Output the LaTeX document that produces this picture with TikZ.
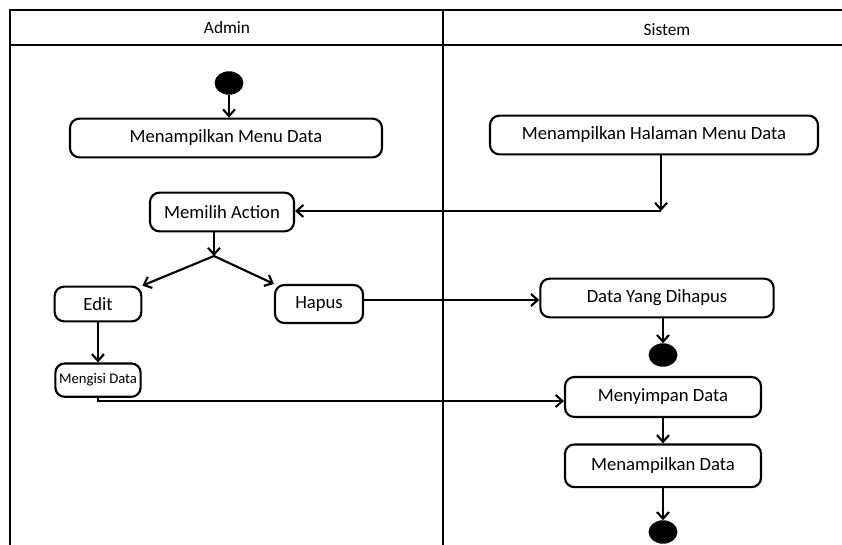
\documentclass[tikz,border=0pt]{standalone}
\usepackage{fontspec}
\setmainfont{Carlito}
\usetikzlibrary{arrows.meta,positioning,shapes.geometric}

\begin{document}
\begin{tikzpicture}[x=0.75pt,y=-0.75pt,->,>={Straight Barb[length=5pt,width=9pt]},line width=1.6pt,
    act/.style={draw,rounded corners=7pt,minimum height=29pt,font=\fontsize{14}{16}\selectfont},
    dot/.style={draw,fill=black,ellipse,minimum width=20pt,minimum height=16pt,inner sep=0pt},
    lane/.style={-,line width=2pt},
    head/.style={font=\fontsize{13}{15}\selectfont}]
  \useasboundingbox (0,0) rectangle (842,545);

  % swimlanes
  \draw[lane] (10,545) -- (10,10) -- (842,10);
  \draw[lane] (10,45) -- (842,45);
  \draw[lane] (443,10) -- (443,545);
  \node[head] (admin)  at (227,28) {Admin};
  \node[head] (sistem) at (667,30) {Sistem};

  % admin
  \node[dot]                  (start)  at (229,83) {};
  \node[act,minimum width=234pt] (menu)   at (226,138) {Menampilkan Menu Data};
  \node[act,minimum width=108pt] (action) at (222,212) {Memilih Action};
  \coordinate (fork) at (214,256);
  \node[act,minimum width=65pt,minimum height=26pt]   (edit)  at (98,304)  {Edit};
  \node[act,minimum width=66pt,minimum height=28.5pt] (hapus) at (319,304) {Hapus};
  \node[act,minimum width=64pt,minimum height=25pt,inner sep=1pt,
        font=\fontsize{11}{13}\selectfont] (isi) [below=30pt of edit] {Mengisi Data};

  % sistem
  \node[act,minimum width=246pt] (halaman) at (654,135) {Menampilkan Halaman Menu Data};
  \coordinate (turn) at (661,211);
  \node[act,minimum width=175pt] (dihapus) at (657,298) {Data Yang Dihapus};
  \node[dot] (end1)   at (663,355) {};
  \node[act,minimum width=147pt,minimum height=30pt] (simpan) at (663,397) {Menyimpan Data};
  \node[act,minimum width=147pt,minimum height=32pt] (tampil) [below=19pt of simpan] {Menampilkan Data};
  \node[dot] (end2)   at (663,532) {};

  \draw (start.south) -- (start.south |- menu.north);
  \draw (halaman.south -| turn) -- (turn);
  \draw (turn) -- (turn -| action.east);
  \draw (action.south -| fork) -- (fork);
  \draw (fork) -- (edit.north east);
  \draw (fork) -- (hapus.north west);
  \draw (edit) -- (isi);
  \draw (isi.south) |- ([yshift=-3pt]simpan.west);
  \draw ([yshift=3pt]hapus.east) -- ([yshift=3pt]hapus.east -| dihapus.west);
  \draw (end1.north |- dihapus.south) -- (end1);
  \draw (simpan) -- (tampil);
  \draw (tampil) -- (end2);
\end{tikzpicture}
\end{document}
